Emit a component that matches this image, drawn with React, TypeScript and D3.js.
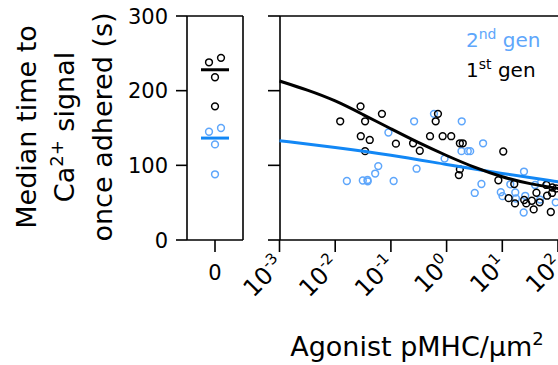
import React from "react";
import * as d3 from "d3";

// ---------- data ----------
const group0Gen1 = [244, 238, 218, 179];
const group0Gen2 = [150, 145, 128, 88];
const group0Jitter = [1, -1, 0, 0];

const gen1Density = [0.0123, 0.0285, 0.0344, 0.069, 0.0288, 0.0417, 0.0344, 0.123, 0.25, 0.33, 0.70, 0.637, 0.504, 0.849, 1.21, 1.73, 1.95, 1.73, 1.66, 10.4, 8.5, 16.4, 13.0, 16.9, 24.7, 26.9, 33.9, 36.6, 46.8, 41.0, 61.8, 79.1, 63.7, 78.2, 74.3, 93];
const gen1Time = [159, 179, 159, 169, 139, 134, 119, 129, 129.5, 119.5, 169, 159, 139, 139, 139, 129.5, 129.5, 94.7, 87, 118.5, 80, 75, 56, 49, 53.6, 49, 52.6, 41, 50.5, 63.3, 73.7, 70.3, 59.3, 63, 37.5, 69];

const gen2Density = [0.0162, 0.0313, 0.038, 0.0384, 0.0522, 0.0593, 0.0902, 0.112, 0.261, 0.289, 0.593, 1.87, 4.52, 1.85, 2.40, 2.65, 0.92, 4.22, 3.20, 24.5, 9.4, 10.1, 13.9, 17.1, 17.6, 25.8, 24.2, 38.8, 49.7, 91, 47.8];
const gen2Time = [79, 79.7, 80.4, 78.6, 89, 99, 144, 79, 159, 95.5, 169, 159, 129.5, 119, 119, 119, 109, 75, 63, 91.7, 64, 58.7, 74.6, 63.6, 55.6, 59.2, 36.8, 73.7, 77, 50.5, 54.2];

const fit1Density = [0.001, 0.00316, 0.01, 0.0316, 0.1, 0.316, 1, 3.16, 10, 31.6, 100, 130];
const fit1Time = [213, 201, 187, 168, 149, 130, 113, 97, 84, 75, 69, 68];
const fit2Density = [0.001, 0.01, 0.1, 1, 10, 100, 130];
const fit2Time = [133, 124, 114, 101, 89, 78, 77];

const yTicks = [0, 100, 200, 300];
const xTickExp = [-3, -2, -1, 0, 1, 2];

// ---------- styles ----------
const BLUE_DOT = "#5ea6fb";
const BLUE_LINE = "#1287f5";
const FONT = "DejaVu Sans, Verdana, sans-serif";

export default function App() {
  const W = 558, H = 365;
  const top = 16, bottom = 240;
  const y = d3.scaleLinear().domain([0, 300]).range([bottom, top]);
  const x = d3.scaleLog().domain([1e-3, 1e2]).range([279.5, 558]);
  const lx0 = 187, lx1 = 243, lc = 215;
  const rx0 = 280;

  const line = d3
    .line<[number, number]>()
    .x((d) => x(d[0]))
    .y((d) => y(d[1]))
    .curve(d3.curveBasis);

  const fit1 = fit1Density.map((d, i) => [d, fit1Time[i]] as [number, number]);
  const fit2 = fit2Density.map((d, i) => [d, fit2Time[i]] as [number, number]);
  const median = (a: number[]) => d3.median(a) as number;

  return (
    <svg width={W} height={H} style={{ position: "absolute", left: 0, top: 0, background: "#fff" }} fontFamily={FONT}>
      {/* y title */}
      <g transform={`translate(0, 127) rotate(-90)`} textAnchor="middle" fontSize={27}>
        <text x={0} y={36}>Median time to</text>
        <text x={0} y={74}>
          Ca<tspan dy={-11} fontSize={18}>2+</tspan>
          <tspan dy={11}> signal</tspan>
        </text>
        <text x={0} y={112}>once adhered (s)</text>
      </g>

      {/* left panel */}
      <g stroke="#000" strokeWidth={1.6} fill="none">
        <line x1={lx0} y1={top} x2={lx0} y2={bottom} />
        <line x1={lx0} y1={top} x2={lx1} y2={top} />
        <line x1={lx1} y1={top} x2={lx1} y2={bottom} />
        <line x1={lx0} y1={bottom} x2={lx1} y2={bottom} />
        <line x1={lc} y1={bottom} x2={lc} y2={bottom + 12} />
        {yTicks.map((t) => (
          <line key={t} x1={lx0 - 11} y1={y(t)} x2={lx0} y2={y(t)} />
        ))}
      </g>
      {yTicks.map((t) => (
        <text key={t} x={168} y={y(t) + 7.5} textAnchor="end" fontSize={21}>
          {t}
        </text>
      ))}
      <text x={lc} y={280} textAnchor="middle" fontSize={21}>0</text>
      {group0Gen1.map((v, i) => (
        <circle key={"a" + i} cx={lc + group0Jitter[i] * 6} cy={y(v)} r={3.4} fill="none" stroke="#000" strokeWidth={1.5} />
      ))}
      {group0Gen2.map((v, i) => (
        <circle key={"b" + i} cx={lc + group0Jitter[i] * 6} cy={y(v)} r={3.4} fill="none" stroke={BLUE_DOT} strokeWidth={1.5} />
      ))}
      <line x1={lc - 14} x2={lc + 14} y1={y(median(group0Gen1))} y2={y(median(group0Gen1))} stroke="#000" strokeWidth={3} />
      <line x1={lc - 14} x2={lc + 14} y1={y(median(group0Gen2))} y2={y(median(group0Gen2))} stroke={BLUE_LINE} strokeWidth={3} />

      {/* right panel */}
      <g stroke="#000" strokeWidth={1.6} fill="none">
        <line x1={rx0} y1={top} x2={rx0} y2={bottom} />
        <line x1={rx0} y1={top} x2={W} y2={top} />
        <line x1={rx0} y1={bottom} x2={W} y2={bottom} />
        {yTicks.map((t) => (
          <line key={t} x1={rx0 - 12} y1={y(t)} x2={rx0} y2={y(t)} />
        ))}
        {xTickExp.map((e) => (
          <line key={e} x1={x(Math.pow(10, e))} y1={bottom} x2={x(Math.pow(10, e))} y2={bottom + 12} />
        ))}
      </g>
      {xTickExp.map((e) => (
        <text
          key={e}
          transform={`translate(${x(Math.pow(10, e)) + 6}, 266) rotate(-45)`}
          textAnchor="end"
          fontSize={24}
        >
          10<tspan dy={-10} fontSize={15}>{e}</tspan>
        </text>
      ))}
      <text x={417} y={356} textAnchor="middle" fontSize={27}>
        Agonist pMHC/μm<tspan dy={-11} fontSize={18}>2</tspan>
      </text>

      {gen2Density.map((d, i) => (
        <circle key={"g2" + i} cx={x(d)} cy={y(gen2Time[i])} r={3.4} fill="none" stroke={BLUE_DOT} strokeWidth={1.5} />
      ))}
      {gen1Density.map((d, i) => (
        <circle key={"g1" + i} cx={x(d)} cy={y(gen1Time[i])} r={3.4} fill="none" stroke="#000" strokeWidth={1.5} />
      ))}
      <path d={line(fit2) || ""} fill="none" stroke={BLUE_LINE} strokeWidth={3} />
      <path d={line(fit1) || ""} fill="none" stroke="#000" strokeWidth={3} />

      {/* legend */}
      <text x={466} y={47} fontSize={20} fill={BLUE_DOT}>
        2<tspan dy={-8} fontSize={14}>nd</tspan>
        <tspan dy={8}> gen</tspan>
      </text>
      <text x={466} y={77} fontSize={20} fill="#000">
        1<tspan dy={-8} fontSize={14}>st</tspan>
        <tspan dy={8}> gen</tspan>
      </text>
    </svg>
  );
}
